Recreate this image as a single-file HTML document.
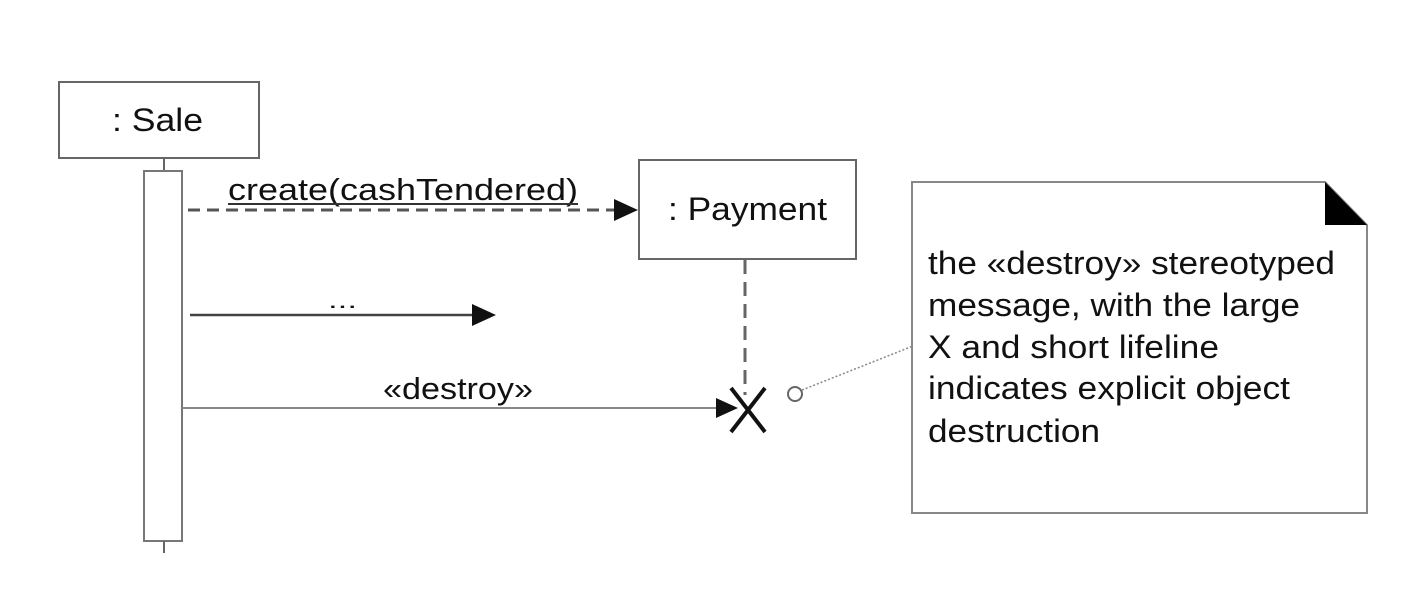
<!DOCTYPE html>
<html><head><style>
html,body{margin:0;padding:0;background:#fff;}
svg{display:block;}
text{font-family:"Liberation Sans",Arial,sans-serif;fill:#111;}
</style></head><body>
<svg width="1402" height="592" viewBox="0 0 1402 592">
<rect x="59" y="82" width="200" height="76" fill="#fff" stroke="#666" stroke-width="2"/>
<text x="112" y="131" font-size="32" textLength="91" lengthAdjust="spacingAndGlyphs">: Sale</text>
<line x1="164" y1="158" x2="164" y2="172" stroke="#666" stroke-width="2"/>
<rect x="144" y="171" width="38" height="370" fill="#fff" stroke="#777" stroke-width="2"/>
<line x1="164" y1="541" x2="164" y2="553" stroke="#666" stroke-width="2"/>

<rect x="639" y="160" width="217" height="99" fill="#fff" stroke="#666" stroke-width="2"/>
<text x="668" y="220" font-size="32" textLength="159" lengthAdjust="spacingAndGlyphs">: Payment</text>
<line x1="745" y1="260" x2="745" y2="395" stroke="#666" stroke-width="3" stroke-dasharray="14,8"/>

<line x1="188" y1="210" x2="618" y2="210" stroke="#555" stroke-width="3" stroke-dasharray="12,7"/>
<polygon points="614,199 638,210 614,221" fill="#111"/>
<text x="228" y="200" font-size="31" textLength="350" lengthAdjust="spacingAndGlyphs">create(cashTendered)</text>
<line x1="228" y1="204" x2="578" y2="204" stroke="#333" stroke-width="2"/>

<line x1="190" y1="315" x2="472" y2="315" stroke="#444" stroke-width="2.5"/>
<polygon points="472,304 496,315 472,326" fill="#111"/>
<text x="328" y="308" font-size="22" textLength="29" lengthAdjust="spacingAndGlyphs">...</text>

<line x1="182" y1="408" x2="720" y2="408" stroke="#888" stroke-width="2"/>
<polygon points="716,398 738,408 716,418" fill="#111"/>
<text x="383" y="399" font-size="31" textLength="150" lengthAdjust="spacingAndGlyphs">«destroy»</text>
<line x1="731" y1="388" x2="765" y2="432" stroke="#111" stroke-width="4"/>
<line x1="765" y1="388" x2="731" y2="432" stroke="#111" stroke-width="4"/>

<circle cx="795" cy="394" r="7" fill="#fff" stroke="#666" stroke-width="2"/>
<line x1="802" y1="390" x2="913" y2="346" stroke="#888" stroke-width="1.5" stroke-dasharray="2,2"/>

<polygon points="912,182 1325,182 1367,225 1367,513 912,513" fill="#fff" stroke="#888" stroke-width="2"/>
<polygon points="1325,182 1367,225 1325,225" fill="#000"/>
<g font-size="32">
<text x="928" y="274" textLength="407" lengthAdjust="spacingAndGlyphs">the «destroy» stereotyped</text>
<text x="928" y="316" textLength="372" lengthAdjust="spacingAndGlyphs">message, with the large</text>
<text x="928" y="358" textLength="291" lengthAdjust="spacingAndGlyphs">X and short lifeline</text>
<text x="928" y="399" textLength="362" lengthAdjust="spacingAndGlyphs">indicates explicit object</text>
<text x="928" y="442" textLength="172" lengthAdjust="spacingAndGlyphs">destruction</text>
</g>
</svg>
</body></html>
